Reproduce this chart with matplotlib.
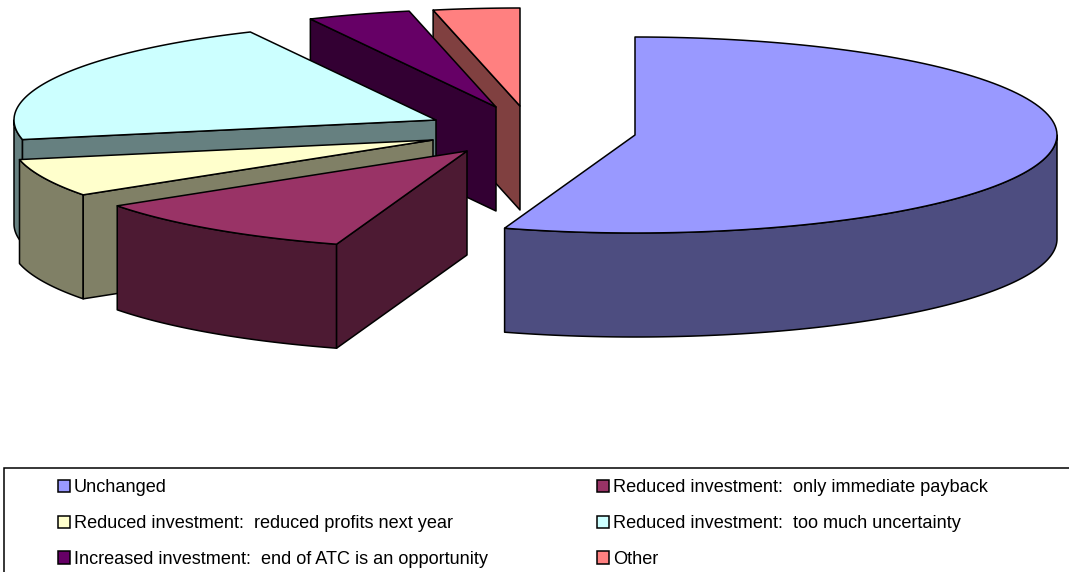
import numpy as np
import matplotlib
matplotlib.use('Agg')
import matplotlib.pyplot as plt
from matplotlib.patches import Patch, Polygon, Rectangle

plt.rcParams['font.family'] = ['Liberation Sans', 'DejaVu Sans']

labels = ['Unchanged',
          'Reduced investment:  only immediate payback',
          'Reduced investment:  reduced profits next year',
          'Reduced investment:  too much uncertainty',
          'Increased investment:  end of ATC is an opportunity',
          'Other']
values = [55.0, 10.55, 6.25, 20.95, 3.95, 3.3]

colors = ['#9999FF', '#993366', '#FFFFCC', '#CCFFFF', '#660066', '#FF8080']
dark = ['#4D4D80', '#4D1A33', '#808066', '#668080', '#330033', '#804040']

# where each exploded slice has its apex, in pixels
apex_x = [635, 467, 433, 436, 496, 520]
apex_y = [135, 151, 140, 120, 107, 106]
RX, RY, DEPTH = 422, 98, 104
LW = 1.1

fig = plt.figure(figsize=(10.69, 5.72), dpi=100)
ax = fig.add_axes([0, 0, 1, 1])
ax.set_xlim(0, 1069)
ax.set_ylim(572, 0)
ax.axis('off')


def rim(cx, cy, a1, a2):
    # angles are clockwise from 12 o'clock
    t = np.radians(np.linspace(a1, a2, 120))
    return np.column_stack([cx + RX * np.sin(t), cy - RY * np.cos(t)])


def face(pts, color, z):
    ax.add_patch(Polygon(pts, closed=True, fc=color, ec='black', lw=LW,
                         joinstyle='round', zorder=z))


edges = np.concatenate([[0], np.cumsum(values)]) / sum(values) * 360

# back slices first so the front ones cover them
for i in range(len(values) - 1, -1, -1):
    a1, a2 = edges[i], edges[i + 1]
    cx, cy = apex_x[i], apex_y[i]
    z = 10 + (len(values) - i) * 3
    down = np.array([0, DEPTH])
    apex = np.array([cx, cy])

    lo, hi = max(a1, 90), min(a2, 270)
    if lo < hi:
        arc = rim(cx, cy, lo, hi)
        face(np.vstack([arc, arc[::-1] + down]), dark[i], z)
    if a1 > 180:
        p = rim(cx, cy, a1, a1)[0]
        face([apex, p, p + down, apex + down], dark[i], z + 1)
    if a2 < 180:
        p = rim(cx, cy, a2, a2)[0]
        face([apex, p, p + down, apex + down], dark[i], z + 1)
    face(np.vstack([apex, rim(cx, cy, a1, a2)]), colors[i], z + 2)

# legend frame runs off the bottom and right of the picture
ax.add_patch(Rectangle((4, 468), 1075, 120, fc='white', ec='black', lw=LW, zorder=1))

handles = [Patch(fc=c, ec='black', lw=LW) for c in colors]
order = [0, 2, 4, 1, 3, 5]
leg = ax.legend([handles[i] for i in order], [labels[i] for i in order],
                ncol=2, frameon=False, fontsize=13.1, loc='upper left',
                bbox_to_anchor=(58 / 1069, 1 - 479.5 / 572), borderaxespad=0, borderpad=0,
                handlelength=0.66, handleheight=0.66, handletextpad=0.22,
                labelspacing=1.03, columnspacing=6.0)
leg.set_zorder(50)

fig.savefig('out.png', dpi=100)
